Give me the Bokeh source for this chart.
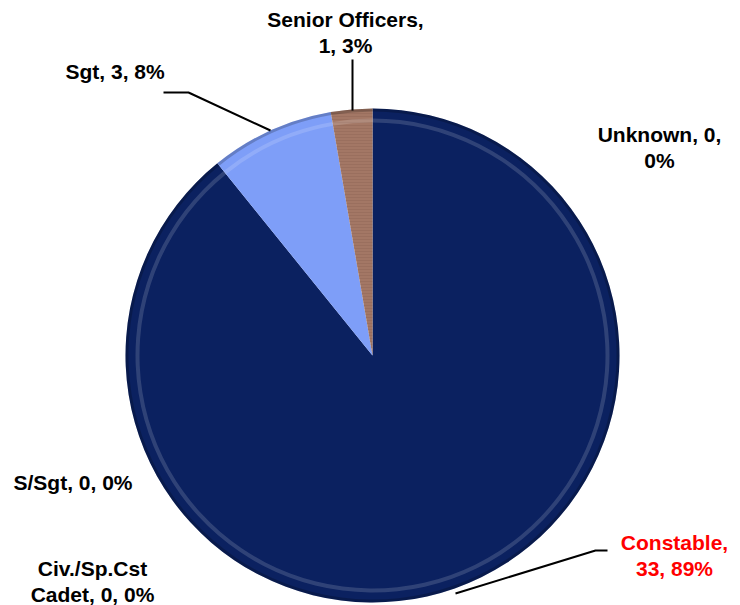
import math
from bokeh.plotting import figure
from bokeh.models import Range1d, ColumnDataSource
from bokeh.core.properties import value
from bokeh.embed import file_html
from bokeh.resources import INLINE

# ---- data ----
categories = ["Unknown", "Constable", "Civ./Sp.Cst\nCadet", "S/Sgt", "Sgt", "Senior Officers"]
counts = [0, 33, 0, 0, 3, 1]
colors = ["#1F3A8A", "#0B2160", "#2E4C9E", "#4060B0", "#7E9EF8", "#A37765"]

W, H = 740, 605
p = figure(width=W, height=H, output_backend="svg", toolbar_location=None,
           x_range=Range1d(0, W), y_range=Range1d(0, H), min_border=0)
p.axis.visible = False
p.grid.visible = False
p.outline_line_color = None
p.background_fill_color = "white"
p.border_fill_color = "white"

def Y(py):
    return H - py

cx, cy, R = 372, Y(355), 247
total = sum(counts)
starts, ends, cols, names = [], [], [], []
cum = 0
for name, c, col in zip(categories, counts, colors):
    a0 = math.pi / 2 - 2 * math.pi * cum / total
    cum += c
    a1 = math.pi / 2 - 2 * math.pi * cum / total
    if c > 0:
        starts.append(a0); ends.append(a1); cols.append(col); names.append(name)

src = ColumnDataSource(dict(s=starts, e=ends, c=cols))
p.wedge(x=cx, y=cy, radius=R, start_angle="s", end_angle="e", direction="clock",
        fill_color="c", line_color=None, source=src)
# brown slice texture
tex = ColumnDataSource(dict(s=[starts[-1]], e=[ends[-1]]))
p.wedge(x=cx, y=cy, radius=R, start_angle="s", end_angle="e", direction="clock",
        fill_alpha=0, line_color=None, hatch_pattern="horizontal_line",
        hatch_color="#8A6050", hatch_alpha=0.35, hatch_scale=3, hatch_weight=1, source=tex)
# bevel: dark rim and light highlight ring
p.annular_wedge(x=cx, y=cy, inner_radius=R - 3, outer_radius=R, start_angle="s", end_angle="e",
                direction="clock", fill_color="black", fill_alpha=0.2, line_color=None, source=src)
p.annular_wedge(x=cx, y=cy, inner_radius=R - 14, outer_radius=R - 10, start_angle="s", end_angle="e",
                direction="clock", fill_color="white", fill_alpha=0.15, line_color=None, source=src)

# leader lines
p.line(x=[163, 188, 270], y=[Y(92), Y(92), Y(130)], line_color="black", line_width=2)
p.line(x=[352, 352], y=[Y(59), Y(110)], line_color="black", line_width=2)
p.line(x=[607, 595, 455], y=[Y(550), Y(550), Y(593)], line_color="black", line_width=2)

font = value("Liberation Sans")
lab_text = ["Senior Officers,\n1, 3%", "Sgt, 3, 8%", "Unknown, 0,\n0%", "S/Sgt, 0, 0%",
            "Civ./Sp.Cst\nCadet, 0, 0%", "Constable,\n33, 89%"]
lab_x = [345, 65, 659, 13, 92, 674]
lab_y = [Y(32), Y(71), Y(147), Y(482), Y(581), Y(555)]
lab_align = ["center", "left", "center", "left", "center", "center"]
lab_col = ["black", "black", "black", "black", "black", "#FF0000"]
p.text(x=lab_x, y=lab_y, text=lab_text, text_align=lab_align, text_baseline="middle",
       text_font=font, text_font_style="bold", text_font_size="21px", text_color=lab_col,
       text_line_height=1.17)

open("out.html", "w").write(file_html(p, INLINE))
